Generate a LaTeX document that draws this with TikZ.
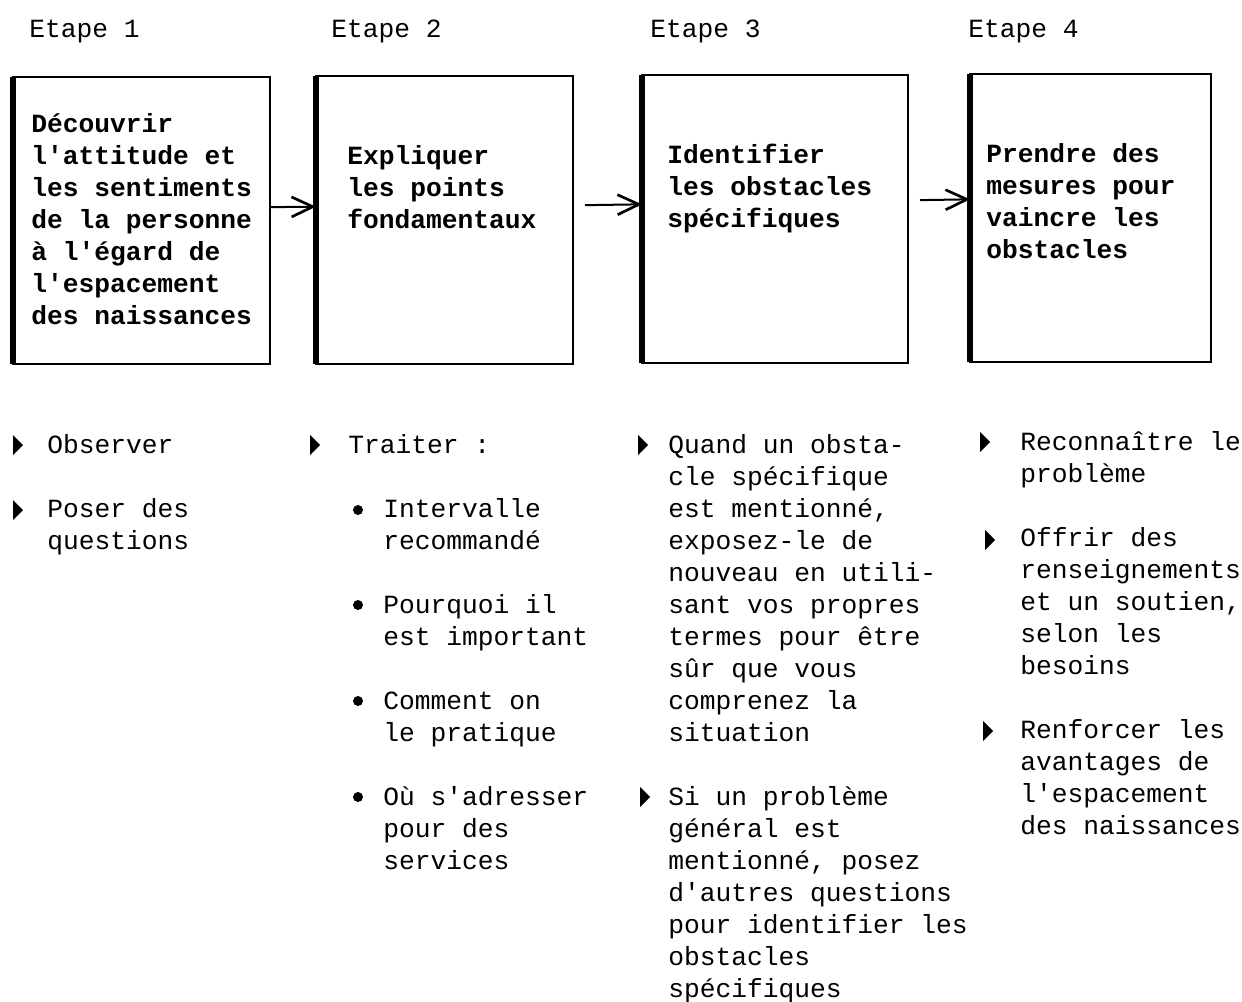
\documentclass[tikz,border=0pt]{standalone}
\usepackage{fontspec}
\setmonofont{Liberation Mono}
\usetikzlibrary{arrows.meta}
\newcommand\fl{\rule{0pt}{20pt}}
\begin{document}
\begin{tikzpicture}[x=0.75pt,y=-0.75pt,
  box/.style={draw, line width=1.5pt, inner sep=0pt, outer sep=0pt},
  txt/.style={anchor=north west, inner sep=0pt, yshift=20pt, align=left,
    font=\fontsize{19.7pt}{24pt}\selectfont\ttfamily},
  btxt/.style={txt, font=\fontsize{19.7pt}{24pt}\selectfont\ttfamily\bfseries},
  arr/.style={line width=1.5pt, -{Straight Barb[length=16pt,width=15pt,line width=2pt]}},
  thick edge/.style={line width=4pt},
  tri/.pic={\fill (0,-10) -- (10,0) -- (0,10) -- cycle;},
  dot/.pic={\fill (0,0) circle[radius=5];}
]
\useasboundingbox (0,0) rectangle (1242,1002);

% boxes
\node[box, minimum width={257*0.75pt}, minimum height={287*0.75pt}] (b1) at (141.5,220.5) {};
\node[box, minimum width={257*0.75pt}, minimum height={288*0.75pt}] (b2) at (444.5,220) {};
\node[box, minimum width={266*0.75pt}, minimum height={288*0.75pt}] (b3) at (775,219) {};
\node[box, minimum width={241*0.75pt}, minimum height={288*0.75pt}] (b4) at (1090.5,218) {};
\foreach \b in {b1,b2,b3,b4} \draw[thick edge] (\b.north west) -- (\b.south west);

% step labels
\node[txt] (e1) at (29,37) {\fl Etape 1};
\node[txt] (e2) at (331,37) {\fl Etape 2};
\node[txt] (e3) at (650,37) {\fl Etape 3};
\node[txt] (e4) at (968,37) {\fl Etape 4};

% box texts
\node[btxt] (t1) at (31,132) {\fl Découvrir\\l'attitude et\\les sentiments\\de la personne\\à l'égard de\\l'espacement\\des naissances};
\node[btxt] (t2) at (347,164) {\fl Expliquer\\les points\\fondamentaux};
\node[btxt] (t3) at (667,163) {\fl Identifier\\les obstacles\\spécifiques};
\node[btxt] (t4) at (986,162) {\fl Prendre des\\mesures pour\\vaincre les\\obstacles};

% arrows
\draw[arr] ([yshift=10pt]b1.east) -- ([yshift=10pt]b2.west);
\draw[arr, shorten <=9pt] ([yshift=11pt]b2.east) -- ([yshift=11pt]b3.west);
\draw[arr, shorten <=9pt] ([yshift=14pt]b3.east) -- ([yshift=14pt]b4.west);

% column 1
\pic at (13,445) {tri};
\pic at (13,510) {tri};
\node[txt] (c1) at (47,453) {\fl Observer\\[24pt]Poser des\\questions};

% column 2
\pic at (310,445) {tri};
\node[txt] (c2) at (348,453) {\fl Traiter :};
\pic at (358,510) {dot};
\pic at (358,605) {dot};
\pic at (358,701) {dot};
\pic at (358,797) {dot};
\node[txt] (c2s) at (383,517) {\fl Intervalle\\recommandé\\[24pt]Pourquoi il\\est important\\[24pt]Comment on\\le pratique\\[24pt]Où s'adresser\\pour des\\services};

% column 3
\pic at (638,445) {tri};
\pic at (640,797) {tri};
\node[txt] (c3) at (668,453) {\fl Quand un obsta-\\cle spécifique\\est mentionné,\\exposez-le de\\nouveau en utili-\\sant vos propres\\termes pour être\\sûr que vous\\comprenez la\\situation\\[24pt]Si un problème\\général est\\mentionné, posez\\d'autres questions\\pour identifier les\\obstacles\\spécifiques};

% column 4
\pic at (980,442) {tri};
\pic at (985,540) {tri};
\pic at (983,731) {tri};
\node[txt] (c4) at (1020,450) {\fl Reconnaître le\\problème\\[24pt]Offrir des\\renseignements\\et un soutien,\\selon les\\besoins\\[24pt]Renforcer les\\avantages de\\l'espacement\\des naissances};
\end{tikzpicture}
\end{document}
